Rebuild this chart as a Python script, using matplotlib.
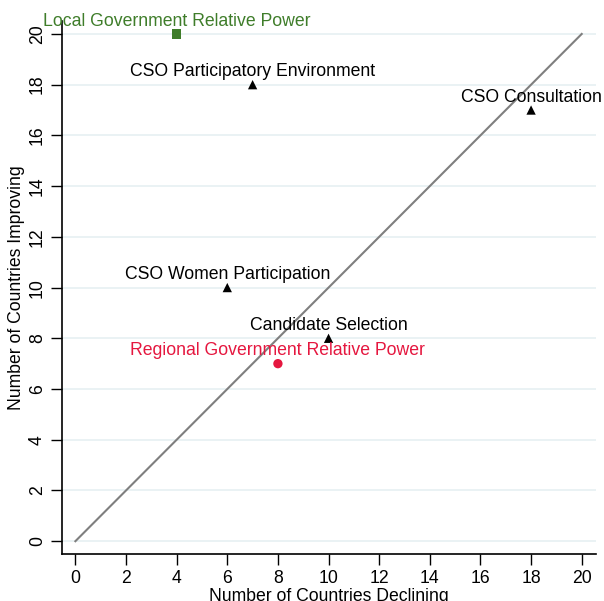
import matplotlib.pyplot as plt

plt.rcParams['font.family'] = ['Liberation Sans', 'DejaVu Sans']

# indicators: countries declining (x) vs improving (y)
names = ["CSO Participatory Environment", "CSO Consultation", "CSO Women Participation",
         "Candidate Selection"]
declining = [7, 18, 6, 10]
improving = [18, 17, 10, 8]

local_name = "Local Government Relative Power"
local_x, local_y = [4], [20]
regional_name = "Regional Government Relative Power"
regional_x, regional_y = [8], [7]

ticks = list(range(0, 21, 2))
fs = 12.7

fig = plt.figure(figsize=(6.04, 6.01), dpi=100)
ax = fig.add_axes([0.1026, 0.078, 0.8844, 0.8866])

for t in ticks:
    ax.axhline(t, color='#e6f0f2', lw=1.2, zorder=0)

ax.plot([0, 20], [0, 20], color='#7f7f7f', lw=1.5, zorder=1)

ax.scatter(declining, improving, marker='^', s=45, color='black', edgecolor='none', zorder=3)
for n, x, y in zip(names, declining, improving):
    ax.annotate(n, (x, y), xytext=(0, 6), textcoords='offset points',
                ha='center', va='baseline', fontsize=fs, color='black')

ax.scatter(local_x, local_y, marker='s', s=45, color='#3f7d2a', edgecolor='none', zorder=3)
ax.annotate(local_name, (local_x[0], local_y[0]), xytext=(0, 6), textcoords='offset points',
            ha='center', va='baseline', fontsize=fs, color='#3f7d2a')

ax.scatter(regional_x, regional_y, marker='o', s=45, color='#e5173f', edgecolor='none', zorder=3)
ax.annotate(regional_name, (regional_x[0], regional_y[0]), xytext=(0, 6), textcoords='offset points',
            ha='center', va='baseline', fontsize=fs, color='#e5173f')

ax.set_xlim(-0.53, 20.57)
ax.set_ylim(-0.51, 20.5)
ax.set_xticks(ticks)
ax.set_yticks(ticks)
ax.tick_params(axis='both', direction='out', length=8, width=1, labelsize=fs, colors='black')
plt.setp(ax.get_yticklabels(), rotation=90, va='center')

for s in ['top', 'right']:
    ax.spines[s].set_visible(False)
for s in ['left', 'bottom']:
    ax.spines[s].set_linewidth(1.2)

ax.set_xlabel("Number of Countries Declining", fontsize=fs, labelpad=1)
ax.set_ylabel("Number of Countries Improving", fontsize=fs, labelpad=3)

plt.savefig('out.png', dpi=100)
